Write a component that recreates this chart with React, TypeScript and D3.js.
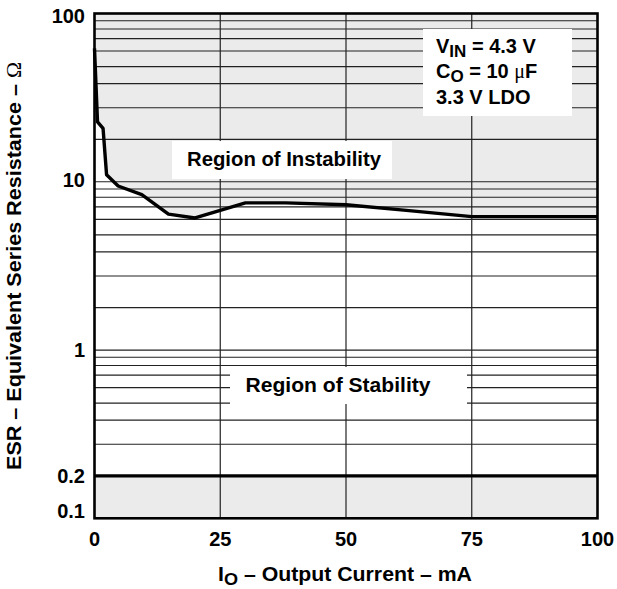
import React from 'react';
import * as d3 from 'd3';

// ---- data ----
const currentMA = [0, 0.6, 1.7, 2.4, 4.7, 9.4, 14.7, 20, 30, 38, 50, 62, 75, 100];
const esrOhm = [62, 25, 23, 11.2, 9.4, 8.3, 6.4, 6.1, 7.4, 7.4, 7.2, 6.7, 6.2, 6.2];
const xTicks = [0, 25, 50, 75, 100];
const yTicks = [0.1, 0.2, 1, 10, 100];
const stabilityLimit = 0.2;
const decadeStarts = [0.1, 1, 10];
const mantissas = [1, 2, 3, 4, 5, 6, 7, 8, 9];

// ---- layout ----
const W = 617, H = 589;
const L = 94.5, R = 597.5, T = 13.5, B = 518.3;
// digitised position of each mantissa line within a decade (grid of the original sheet)
const mantissaFrac = [0, 0.252, 0.44, 0.583, 0.684, 0.777, 0.851, 0.908, 0.957];
const FONT = "'Liberation Sans', Arial, Helvetica, sans-serif";
const GRAY = '#ebebeb';

export default function App() {
  const decH = (B - T) / decadeStarts.length;
  const gridVals: number[] = [];
  const gridPos: number[] = [];
  decadeStarts.forEach((d, i) => {
    mantissas.forEach((m, j) => {
      gridVals.push(+(d * m).toPrecision(3));
      gridPos.push(B - decH * (i + mantissaFrac[j]));
    });
  });
  gridVals.push(100);
  gridPos.push(T);

  const y = d3.scaleLog().domain(gridVals).range(gridPos);
  const x = d3.scaleLinear().domain([0, 100]).range([L, R]);

  const area = d3
    .area<number>()
    .x((_, i) => x(currentMA[i]))
    .y0(y(100))
    .y1((d) => y(d));
  const line = d3
    .line<number>()
    .x((_, i) => x(currentMA[i]))
    .y((d) => y(d));

  const hLines = gridVals.filter((v) => v !== 0.1 && v !== 100 && v !== stabilityLimit);
  const vLines = xTicks.filter((v) => v !== 0 && v !== 100);

  const tickOffset = (v: number) => (v === 0.1 ? 0 : v === 100 ? 9 : v === 10 ? 5 : 7);

  return (
    <svg width={W} height={H} style={{ position: 'absolute', left: 0, top: 0, background: '#fff' }}>
      {/* shaded regions */}
      <path d={area(esrOhm) || ''} fill={GRAY} />
      <rect x={L} y={y(stabilityLimit)} width={R - L} height={y(0.1) - y(stabilityLimit)} fill={GRAY} />

      {/* grid */}
      {hLines.map((v) => (
        <line key={'h' + v} x1={L} x2={R} y1={y(v)} y2={y(v)} stroke="#222" strokeWidth={1.2} />
      ))}
      {vLines.map((v) => (
        <line key={'v' + v} x1={x(v)} x2={x(v)} y1={T} y2={B} stroke="#222" strokeWidth={1.2} />
      ))}

      {/* label boxes */}
      <rect x={172} y={141} width={220} height={38} fill="#fff" />
      <rect x={230} y={367} width={237} height={37} fill="#fff" />
      <rect x={423} y={29} width={149} height={87} fill="#fff" />

      {/* stability limit */}
      <line x1={L} x2={R} y1={y(stabilityLimit)} y2={y(stabilityLimit)} stroke="#000" strokeWidth={3.2} />

      {/* ESR curve */}
      <path d={line(esrOhm) || ''} fill="none" stroke="#000" strokeWidth={3.4} strokeLinejoin="round" />

      {/* frame */}
      <rect x={L} y={T} width={R - L} height={B - T} fill="none" stroke="#000" strokeWidth={2.6} />

      <g fontFamily={FONT} fontWeight="bold" fill="#000">
        {/* region labels */}
        <text x={284} y={166} fontSize={20} textAnchor="middle" textLength={194} lengthAdjust="spacingAndGlyphs">Region of Instability</text>
        <text x={338} y={392} fontSize={20} textAnchor="middle" textLength={185} lengthAdjust="spacingAndGlyphs">Region of Stability</text>

        {/* conditions */}
        <text x={436} y={53} fontSize={20}>
          V<tspan fontSize={17} dy={4}>IN</tspan>
          <tspan dy={-4}> = 4.3 V</tspan>
        </text>
        <text x={436} y={78} fontSize={20}>
          C<tspan fontSize={17} dy={4}>O</tspan>
          <tspan dy={-4}> = 10 </tspan>
          <tspan fontFamily="'Liberation Serif', 'Times New Roman', serif" fontWeight="normal">μ</tspan>F
        </text>
        <text x={436} y={103.5} fontSize={20}>3.3 V LDO</text>

        {/* x ticks */}
        {xTicks.map((v) => (
          <text key={'xt' + v} x={x(v)} y={546} fontSize={20} textAnchor="middle">{v}</text>
        ))}
        {/* y ticks */}
        {yTicks.map((v) => (
          <text key={'yt' + v} x={85} y={y(v) + tickOffset(v)} fontSize={20} textAnchor="end">{v}</text>
        ))}

        {/* axis titles */}
        <text x={345} y={581} fontSize={20} textAnchor="middle" textLength={254} lengthAdjust="spacingAndGlyphs">
          I<tspan fontSize={17} dy={4}>O</tspan>
          <tspan dy={-4}> – Output Current – mA</tspan>
        </text>
        <text transform="translate(21,266) rotate(-90)" fontSize={20} textAnchor="middle" textLength={408} lengthAdjust="spacingAndGlyphs">
          ESR – Equivalent Series Resistance –{' '}
          <tspan fontFamily="'Liberation Serif', 'Times New Roman', serif" fontWeight="normal">Ω</tspan>
        </text>
      </g>
    </svg>
  );
}
